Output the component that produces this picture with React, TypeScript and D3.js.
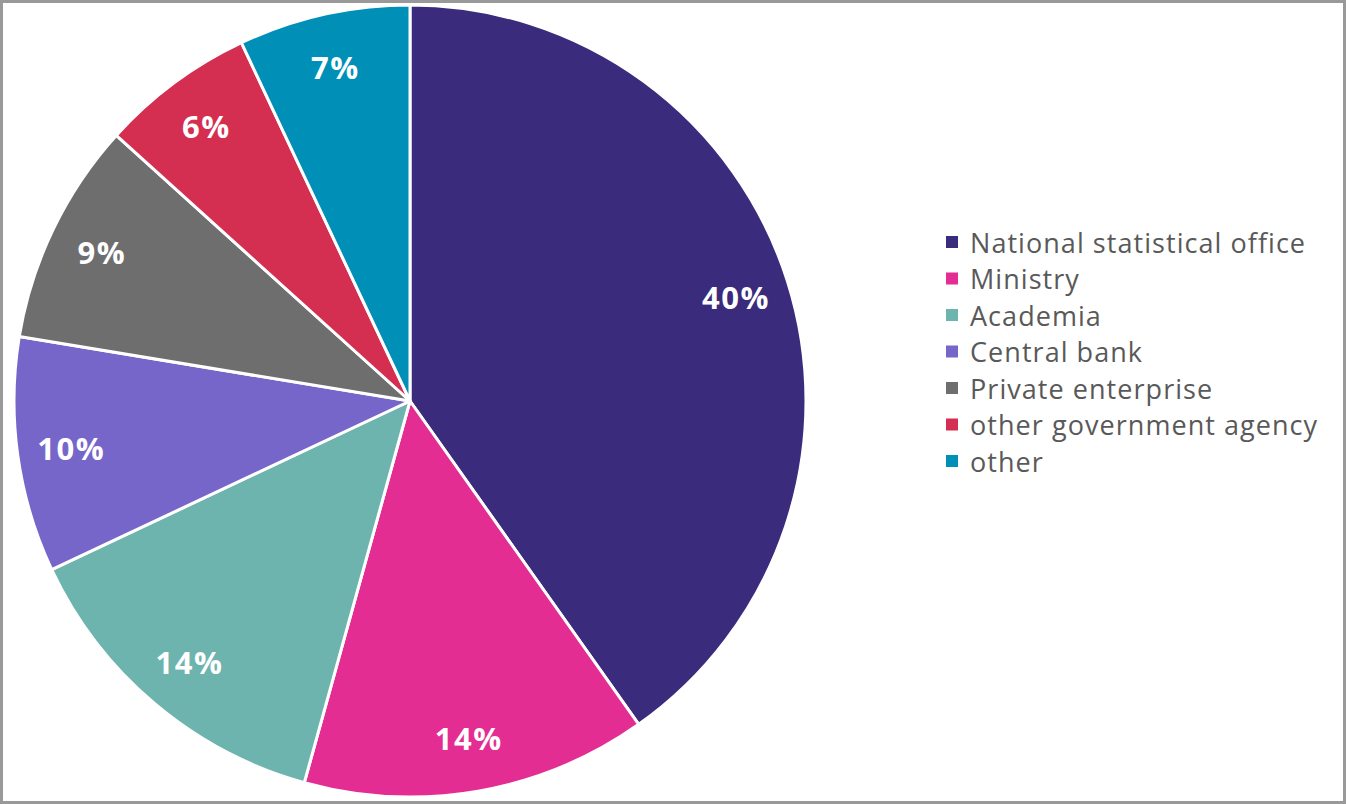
import React from "react";
import * as d3 from "d3";

const categories = [
  "National statistical office",
  "Ministry",
  "Academia",
  "Central bank",
  "Private enterprise",
  "other government agency",
  "other",
];
const values = [40.2, 14.1, 13.7, 9.6, 9.1, 6.3, 7.0];
const colors = ["#3A2B7C", "#E32D93", "#6DB4AF", "#7766C9", "#6E6E6E", "#D42E50", "#008FB6"];

const W = 1346;
const H = 804;
const cx = 410;
const cy = 401;
const R = 396;
const labelR = 342;

export default function App() {
  const pie = d3.pie<number>().sort(null).value((d) => d)(values);
  const arc = d3.arc<d3.PieArcDatum<number>>().innerRadius(0).outerRadius(R);
  const labelArc = d3.arc<d3.PieArcDatum<number>>().innerRadius(labelR).outerRadius(labelR);
  const legendY = d3.scaleLinear().domain([0, 1]).range([242, 278.5]);

  return (
    <svg
      width={W}
      height={H}
      style={{ position: "absolute", left: 0, top: 0, background: "#fff" }}
      fontFamily="'Open Sans', sans-serif"
    >
      <rect x={1.5} y={1.5} width={W - 3} height={H - 3} fill="#fff" stroke="#999" strokeWidth={3} />
      <g transform={`translate(${cx},${cy})`}>
        {pie.map((p, i) => (
          <path key={i} d={arc(p) || ""} fill={colors[i]} stroke="#fff" strokeWidth={3} strokeLinejoin="round" />
        ))}
        {pie.map((p, i) => {
          const [x, y] = labelArc.centroid(p);
          return (
            <text
              key={"l" + i}
              x={x}
              y={y}
              textAnchor="middle"
              dominantBaseline="central"
              fill="#fff"
              fontWeight="bold"
              fontSize={31}
              letterSpacing={1.5}
            >
              {Math.round(values[i])}%
            </text>
          );
        })}
      </g>
      <g>
        {categories.map((c, i) => (
          <g key={c} transform={`translate(946,${legendY(i)})`}>
            <rect x={0} y={-6} width={12} height={12} fill={colors[i]} />
            <text x={24} y={0} dominantBaseline="central" fontSize={27} letterSpacing={1.05} fill="#595959">
              {c}
            </text>
          </g>
        ))}
      </g>
    </svg>
  );
}
